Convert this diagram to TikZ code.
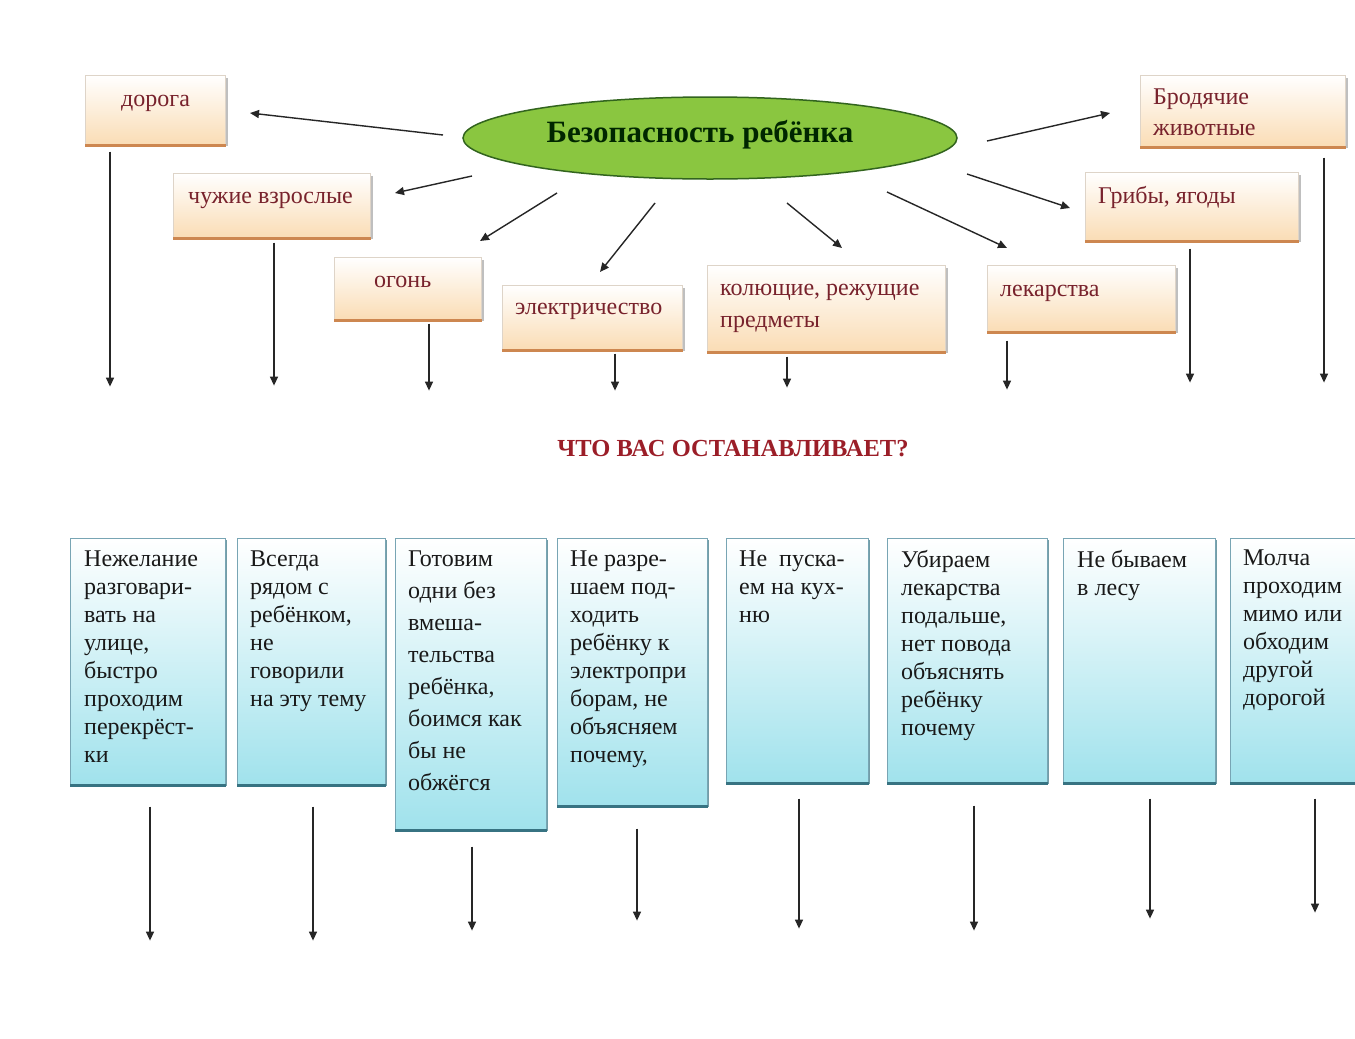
\documentclass[tikz,border=0pt]{standalone}
\usepackage{fontspec}
\setmainfont{Liberation Serif}
\usetikzlibrary{arrows.meta,shapes.geometric}
\definecolor{ttext}{RGB}{120,34,44}
\definecolor{ttitle}{RGB}{155,30,40}
\definecolor{peach}{RGB}{250,220,180}
\definecolor{tedgec}{RGB}{205,135,80}
\definecolor{tbord}{RGB}{222,212,200}
\definecolor{cyanb}{RGB}{160,226,236}
\definecolor{bbord}{RGB}{120,165,180}
\definecolor{bedgec}{RGB}{55,115,130}
\definecolor{egreen}{RGB}{138,198,64}
\definecolor{eborder}{RGB}{50,100,30}
\begin{document}
\begin{tikzpicture}[x=1pt,y=-1pt,
  topbox/.style={draw=tbord, line width=0.6pt, top color=white, bottom color=peach, inner sep=0pt, anchor=north west},
  botbox/.style={draw=bbord, line width=0.6pt, top color=white, bottom color=cyanb, inner sep=0pt, anchor=north west},
  tedge/.style={draw=tedgec, line width=3pt},
  tshadow/.style={draw=black!25, line width=1.5pt},
  bedge/.style={draw=bedgec, line width=3pt},
  bshadow/.style={draw=bedgec!70, line width=1.5pt},
  ttxt/.style={text=ttext, inner sep=0pt, anchor=base west, align=left, font=\fontsize{24}{31}\selectfont},
  btxt/.style={text=black!90, inner sep=0pt, anchor=north west, align=left, font=\fontsize{24}{28}\selectfont},
  arr/.style={draw=black!85, line width=1.4pt, -{Triangle[length=9pt,width=8pt]}}
]
\useasboundingbox (0,0) rectangle (1355,1039);
\fill[white] (0,0) rectangle (1355,1039);

% ---------- top boxes ----------
\newcommand{\tbox}[5]{%
  \node[topbox, minimum width=#4-#2, minimum height=#5-#3] (#1) at (#2,#3) {};
  \draw[tshadow] ([xshift=1.5pt,yshift=-3pt]#1.north east) -- ([xshift=1.5pt]#1.south east);
  \draw[tedge] (#1.south west) -- (#1.south east);}
\tbox{dor}{85}{75}{225}{145}
\tbox{chu}{173}{173}{370}{238}
\tbox{ogo}{334}{257}{481}{320}
\tbox{ele}{502}{285}{682}{350}
\tbox{kol}{707}{265}{945}{352}
\tbox{lek}{987}{265}{1175}{332}
\tbox{gri}{1085}{172}{1298}{241}
\tbox{bro}{1140}{75}{1345}{147}

\node[ttxt] (tdor) at (121,106) {дорога};
\node[ttxt] (tchu) at (188,203) {чужие взрослые};
\node[ttxt] (togo) at (374,287) {огонь};
\node[ttxt] (tele) at (515,314) {электричество};
\node[ttxt, font=\fontsize{24}{32}\selectfont] (tkol) at (720,327) {колющие, режущие\\предметы};
\node[ttxt] (tlek) at (1000,296) {лекарства};
\node[ttxt] (tgri) at (1098,203) {Грибы, ягоды};
\node[ttxt] (tbro) at (1153,135) {Бродячие\\животные};

% ---------- ellipse ----------
\node[ellipse, draw=eborder, line width=1.5pt, fill=egreen, minimum width=494pt, minimum height=82pt, inner sep=0pt] (e) at (710,138) {};
\node[font=\fontsize{31}{34}\selectfont\bfseries, text=black!85!green, inner sep=0pt] (etext) at (700,135) {Безопасность ребёнка};

% ---------- arrows from ellipse ----------
\coordinate (s1) at (443,135); \coordinate (d1) at (250,113);
\coordinate (s2) at (472,176); \coordinate (d2) at (395,193);
\coordinate (s3) at (557,193); \coordinate (d3) at (480,241);
\coordinate (s4) at (655,203); \coordinate (d4) at (600,272);
\coordinate (s5) at (787,203); \coordinate (d5) at (842,248);
\coordinate (s6) at (887,192); \coordinate (d6) at (1007,248);
\coordinate (s7) at (967,174); \coordinate (d7) at (1070,208);
\coordinate (s8) at (987,141); \coordinate (d8) at (1110,113);
\foreach \i in {1,...,8} {\draw[arr] (s\i) -- (d\i);}

% ---------- vertical arrows from top boxes ----------
\draw[arr] ([xshift=25pt,yshift=-6pt]dor.south west) -- ++(0,235);
\draw[arr] ([xshift=101pt,yshift=-4pt]chu.south west) -- ++(0,143);
\draw[arr] ([xshift=95pt,yshift=-3pt]ogo.south west) -- ++(0,67);
\draw[arr] ([xshift=113pt,yshift=-3pt]ele.south west) -- ++(0,37);
\draw[arr] ([xshift=80pt,yshift=-4pt]kol.south west) -- ++(0,31);
\draw[arr] ([xshift=20pt,yshift=-8pt]lek.south west) -- ++(0,49);
\draw[arr] ([xshift=105pt,yshift=-7pt]gri.south west) -- ++(0,134);
\draw[arr] ([xshift=184pt,yshift=-10pt]bro.south west) -- ++(0,225);

% ---------- title ----------
\node[font=\fontsize{24.5}{28}\selectfont\bfseries, text=ttitle, inner sep=0pt] (title) at (733,449) {ЧТО ВАС ОСТАНАВЛИВАЕТ?};

% ---------- bottom boxes ----------
\newcommand{\bbox}[5]{%
  \node[botbox, minimum width=#4-#2, minimum height=#5-#3] (#1) at (#2,#3) {};
  \draw[bshadow] ([xshift=1pt,yshift=-2pt]#1.north east) -- ([xshift=1pt]#1.south east);
  \draw[bedge] (#1.south west) -- (#1.south east);}
\bbox{b1}{70}{538}{225}{785}
\bbox{b2}{237}{538}{385}{785}
\bbox{b3}{395}{538}{546}{830}
\bbox{b4}{557}{538}{707}{806}
\bbox{b5}{726}{538}{868}{783}
\bbox{b6}{887}{538}{1047}{783}
\bbox{b7}{1063}{538}{1215}{783}
\bbox{b8}{1230}{538}{1360}{783}

\node[btxt] (x1) at (84,551) {Нежелание\\разговари-\\вать на\\улице,\\быстро\\проходим\\перекрёст-\\ки};
\node[btxt] (x2) at (250,551) {Всегда\\рядом с\\ребёнком,\\не\\говорили\\на эту тему};
\node[btxt, font=\fontsize{24}{32}\selectfont] (x3) at (408,551) {Готовим\\одни без\\вмеша-\\тельства\\ребёнка,\\боимся как\\бы не\\обжёгся};
\node[btxt] (x4) at (570,551) {Не разре-\\шаем под-\\ходить\\ребёнку к\\электропри\\борам, не\\объясняем\\почему,};
\node[btxt] (x5) at (739,551) {Не\ \ пуска-\\ем на кух-\\ню};
\node[btxt] (x6) at (901,550) {Убираем\\лекарства\\подальше,\\нет повода\\объяснять\\ребёнку\\почему};
\node[btxt] (x7) at (1077,550) {Не бываем\\в лесу};
\node[btxt] (x8) at (1243,550) {Молча\\проходим\\мимо или\\обходим\\другой\\дорогой};

% ---------- bottom arrows ----------
\draw[arr] ([xshift=80pt,yshift=-21pt]b1.south west) -- ++(0,134);
\draw[arr] ([xshift=76pt,yshift=-21pt]b2.south west) -- ++(0,134);
\draw[arr] ([xshift=77pt,yshift=-16pt]b3.south west) -- ++(0,84);
\draw[arr] ([xshift=80pt,yshift=-22pt]b4.south west) -- ++(0,92);
\draw[arr] ([xshift=73pt,yshift=-15pt]b5.south west) -- ++(0,130);
\draw[arr] ([xshift=87pt,yshift=-22pt]b6.south west) -- ++(0,125);
\draw[arr] ([xshift=87pt,yshift=-15pt]b7.south west) -- ++(0,120);
\draw[arr] ([xshift=85pt,yshift=-15pt]b8.south west) -- ++(0,114);
\end{tikzpicture}
\end{document}
